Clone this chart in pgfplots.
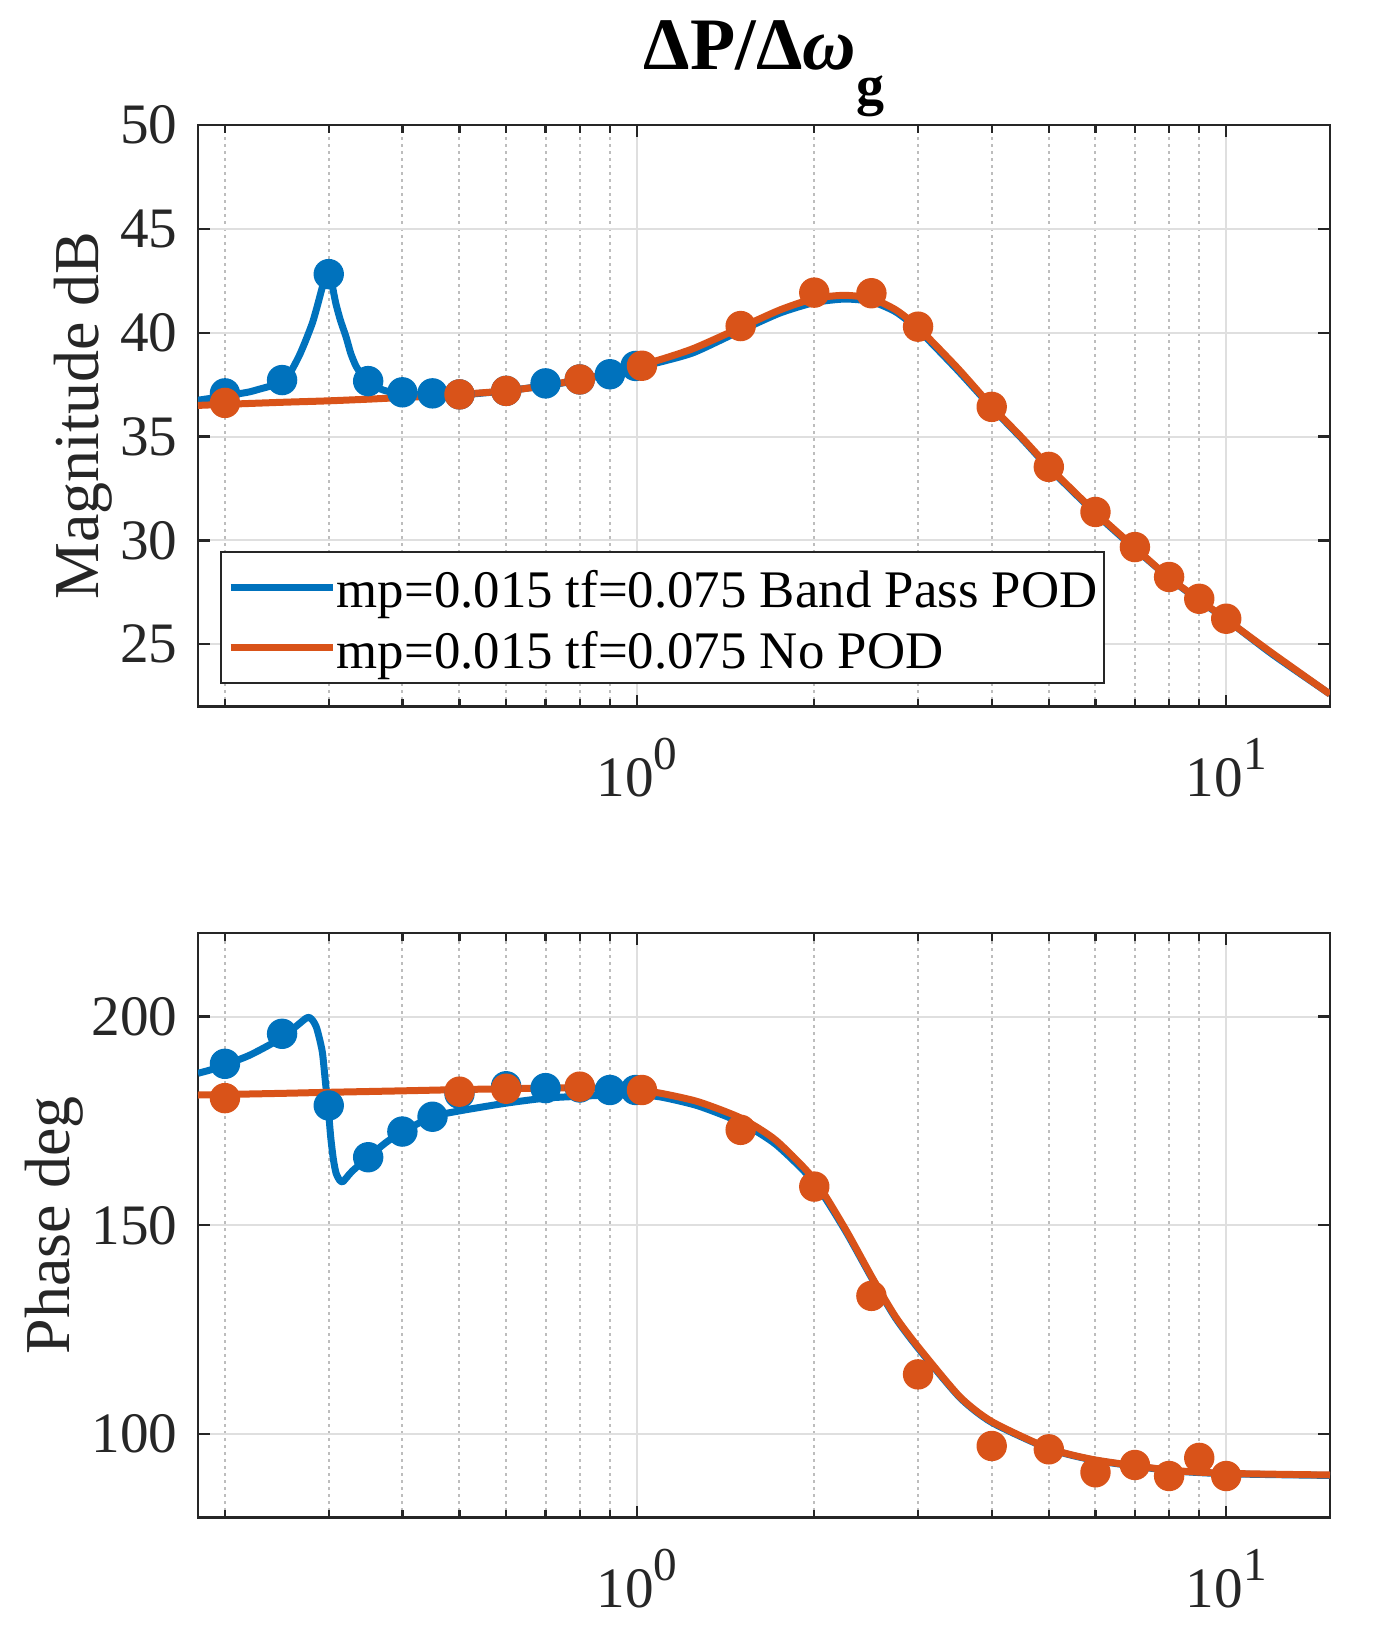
\documentclass[border=0pt]{standalone}
\usepackage{pgfplots}
\pgfplotsset{compat=1.18}
\usepackage{fontspec}
\setmainfont{Liberation Serif}
\definecolor{mblue}{HTML}{0072BD}
\definecolor{morange}{HTML}{D95319}
\definecolor{axc}{HTML}{262626}
\definecolor{gridc}{HTML}{DFDFDF}
\definecolor{mgridc}{HTML}{BDBDBD}

\newcommand{\supx}[1]{10\raisebox{6.75pt}{\fontsize{11.8}{12}\selectfont #1}}

\begin{document}
\begin{tikzpicture}
\path[use as bounding box] (0,0) rectangle (343pt,406.75pt);

% ---------------- Magnitude ----------------
\begin{axis}[
  scale only axis, width=283pt,
  xmode=log, xmin=0.18, xmax=15,
  xtick={1,10}, xticklabels={\supx{0},\supx{1}},
  minor xtick={0.2,0.3,0.4,0.5,0.6,0.7,0.8,0.9,2,3,4,5,6,7,8,9},
  xmajorgrids, xminorgrids, ymajorgrids,
  major grid style={gridc, line width=0.5pt},
  minor grid style={mgridc, line width=0.5pt, dash pattern=on 0.75pt off 1pt},
  axis line style={axc, line width=0.6pt},
  every tick/.style={axc, line width=0.6pt},
  major tick length=3pt, minor tick length=2pt,
  tick pos=both,
  tick label style={font=\fontsize{14.3}{16}\selectfont, text=axc},
  xticklabel style={anchor=base, yshift=-22.4pt},
  yticklabel style={anchor=east, inner sep=0pt, xshift=-4.9pt},
  /pgf/number format/assume math mode=true,
  at={(49.5pt,230.1pt)}, anchor=south west, height=145.4pt,
  ymin=22, ymax=50, ytick={25,30,35,40,45,50},
  ylabel={Magnitude dB},
  ylabel style={font=\fontsize{16}{18}\selectfont, text=axc, at={(axis description cs:-0.0881,0.5)}, anchor=base},
  every axis title shift=0pt,
  title={ΔP/Δ\textit{ω}\raisebox{-8.75pt}{\fontsize{14}{14}\selectfont g}},
  title style={at={(axis description cs:0.5,1)}, anchor=base, yshift=13.75pt, font=\fontsize{18.5}{20}\selectfont\bfseries},
  legend cell align=left,
  legend style={at={(0.0194,0.2677)}, anchor=north west, draw=axc, line width=0.5pt, fill=white,
    inner xsep=1.6pt, inner ysep=1.2pt, row sep=0pt, column sep=0pt,
    nodes={inner sep=0pt, text height=12.67pt, text depth=2.5pt, font=\fontsize{13.2}{15}\selectfont}},
  legend image code/.code={\path (0pt,0pt) -- (25.6pt,0pt); \draw[#1, line width=1.75pt] (0pt,0pt) -- (24pt,0pt);},
]
\addplot[mblue, line width=1.75pt, line join=round, smooth, tension=0.4] coordinates {
(0.18,36.75) (0.19,36.85) (0.20,36.95) (0.21,37.05) (0.22,37.15) (0.23,37.3) (0.24,37.45) (0.25,37.68)
(0.2576,38.04) (0.2674,38.9) (0.2744,39.65) (0.2817,40.5) (0.287,41.3) (0.292,42.1) (0.2968,42.75) (0.2995,42.88)
(0.302,42.7) (0.305,42.1) (0.3085,41.4) (0.314,40.6) (0.321,39.8) (0.327,39.0) (0.3336,38.4) (0.341,38.0)
(0.35,37.65) (0.36,37.4) (0.375,37.2) (0.40,37.05) (0.45,37.0) (0.50,37.0) (0.55,37.1) (0.60,37.2)
(0.70,37.45) (0.80,37.72) (0.90,38.02) (1.0,38.33) (1.1,38.6) (1.25,39.05) (1.5,40.1) (1.75,40.95)
(2.0,41.45) (2.25,41.62) (2.5,41.5) (2.75,41.0) (3.0,40.15) (3.5,38.2) (4.0,36.4) (4.5,34.9)
(5,33.5) (6,31.3) (7,29.6) (8,28.2) (9,27.1) (10,26.2) (12,24.5) (15,22.6)
};
\addlegendentry{mp=0.015 tf=0.075 Band Pass POD}
\addplot[morange, line width=1.75pt, line join=round, smooth, tension=0.4] coordinates {
(0.18,36.5) (0.2,36.55) (0.25,36.65) (0.3,36.72) (0.35,36.8) (0.4,36.88) (0.45,36.95) (0.5,37.03)
(0.6,37.2) (0.7,37.45) (0.8,37.75) (0.9,38.05) (1.0,38.4) (1.1,38.72) (1.25,39.25) (1.5,40.25)
(1.75,41.1) (2.0,41.65) (2.25,41.8) (2.5,41.65) (2.75,41.1) (3.0,40.25) (3.5,38.3) (4.0,36.45)
(4.5,34.95) (5,33.55) (6,31.35) (7,29.65) (8,28.2) (9,27.15) (10,26.2) (12,24.55) (15,22.6)
};
\addlegendentry{mp=0.015 tf=0.075 No POD}
\addplot[only marks, mark=*, mark size=3.6pt, mblue, forget plot] coordinates {
(0.2,37.08) (0.25,37.72) (0.3,42.82) (0.35,37.67) (0.4,37.13) (0.45,37.08) (0.5,37.03) (0.6,37.2)
(0.7,37.56) (0.8,37.75) (0.9,38.0) (0.995,38.4)
};
\addplot[only marks, mark=*, mark size=3.6pt, morange, forget plot] coordinates {
(0.2,36.62) (0.5,37.03) (0.6,37.2) (0.8,37.75) (1.02,38.41) (1.5,40.32) (2,41.93) (2.5,41.9)
(3,40.29) (4,36.43) (5,33.54) (6,31.37) (7,29.68) (8,28.24) (9,27.19) (10,26.23)
};
\end{axis}

% ---------------- Phase ----------------
\begin{axis}[
  scale only axis, width=283pt,
  xmode=log, xmin=0.18, xmax=15,
  xtick={1,10}, xticklabels={\supx{0},\supx{1}},
  minor xtick={0.2,0.3,0.4,0.5,0.6,0.7,0.8,0.9,2,3,4,5,6,7,8,9},
  xmajorgrids, xminorgrids, ymajorgrids,
  major grid style={gridc, line width=0.5pt},
  minor grid style={mgridc, line width=0.5pt, dash pattern=on 0.75pt off 1pt},
  axis line style={axc, line width=0.6pt},
  every tick/.style={axc, line width=0.6pt},
  major tick length=3pt, minor tick length=2pt,
  tick pos=both,
  tick label style={font=\fontsize{14.3}{16}\selectfont, text=axc},
  xticklabel style={anchor=base, yshift=-22.4pt},
  yticklabel style={anchor=east, inner sep=0pt, xshift=-4.9pt},
  /pgf/number format/assume math mode=true,
  at={(49.5pt,27.35pt)}, anchor=south west, height=146.15pt,
  ymin=80, ymax=220, ytick={100,150,200},
  ylabel={Phase deg},
  ylabel style={font=\fontsize{16}{18}\selectfont, text=axc, at={(axis description cs:-0.1131,0.5)}, anchor=base},
]
\addplot[mblue, line width=1.75pt, line join=round, smooth, tension=0.4] coordinates {
(0.18,186.4) (0.19,187.3) (0.2,188.4) (0.22,190.7) (0.24,193.5) (0.25,195.2) (0.26,196.9) (0.268,198.4)
(0.274,199.5) (0.278,199.8) (0.282,199.0) (0.2856,197.6) (0.289,195.0) (0.2928,191.2) (0.2963,184.0) (0.299,179.0)
(0.3024,171.0) (0.3055,165.8) (0.3087,162.5) (0.313,160.8) (0.3167,160.4) (0.322,161.5) (0.329,163.0) (0.35,166.3)
(0.375,169.8) (0.4,172.4) (0.45,176.0) (0.5,177.4) (0.6,179.25) (0.7,180.45) (0.8,180.9) (0.9,181.2)
(1.0,181.3) (1.1,180.7) (1.27,178.6) (1.5,174.6) (1.72,169.4) (2.0,160.3) (2.256,148.8) (2.512,137.0)
(2.747,127.8) (3.0,120.6) (3.529,108.8) (4.0,102.8) (5,96.5) (6,93.7) (8,91.3) (10,90.5) (15,90.1)
};
\addplot[morange, line width=1.75pt, line join=round, smooth, tension=0.4] coordinates {
(0.18,181.2) (0.25,181.6) (0.3,181.85) (0.4,182.2) (0.5,182.5) (0.6,182.7) (0.7,182.85) (0.8,182.9)
(0.9,182.75) (1.0,182.4) (1.1,181.6) (1.27,179.6) (1.5,175.7) (1.72,170.4) (2.0,161.0) (2.256,149.2)
(2.512,137.3) (2.747,128.1) (3.0,120.9) (3.529,109.0) (4.0,103.0) (5.0,96.6) (6,93.8) (8,91.4)
(10,90.6) (15,90.2)
};
\addplot[only marks, mark=*, mark size=3.6pt, mblue, forget plot] coordinates {
(0.2,188.67) (0.25,195.86) (0.3,178.7) (0.35,166.3) (0.4,172.45) (0.45,176.0) (0.5,181.5) (0.6,183.3)
(0.7,182.85) (0.8,183.0) (0.9,182.4) (0.995,182.4)
};
\addplot[only marks, mark=*, mark size=3.6pt, morange, forget plot] coordinates {
(0.2,180.45) (0.5,182.0) (0.6,182.7) (0.8,183.2) (1.02,182.4) (1.5,172.86) (2,159.27) (2.5,133.1)
(3,114.3) (4,97.15) (5,96.35) (6,90.85) (7,92.6) (8,89.96) (9,94.3) (10,89.96)
};
\end{axis}
\end{tikzpicture}
\end{document}
